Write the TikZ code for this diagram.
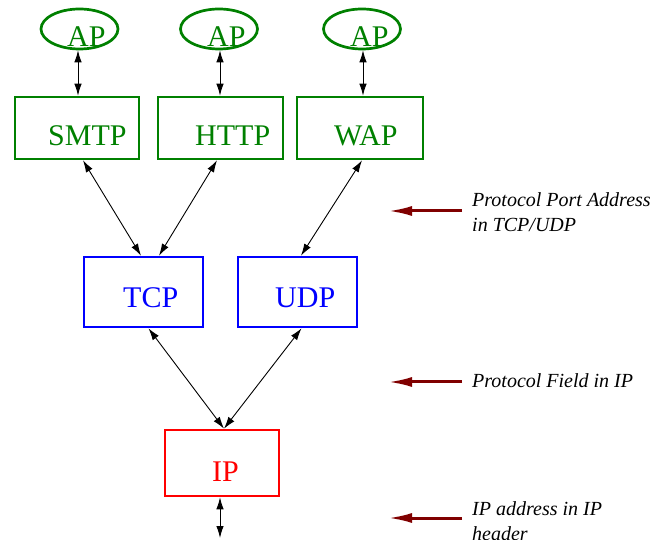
\documentclass[tikz,border=0pt]{standalone}
\usepackage{fontspec}
\setmainfont{Liberation Serif}
\usetikzlibrary{shapes.geometric,arrows.meta}
\definecolor{pgreen}{RGB}{0,128,0}
\definecolor{pblue}{RGB}{0,0,255}
\definecolor{pred}{RGB}{255,0,0}
\definecolor{pmaroon}{RGB}{128,0,0}
\begin{document}
\begin{tikzpicture}[x=1pt,y=-1pt,
  apnode/.style={ellipse,draw=pgreen,line width=2.7pt,minimum width=77pt,minimum height=40pt,inner sep=0pt},
  box/.style={rectangle,draw=#1,line width=2.7pt,inner sep=0pt},
  lbl/.style={anchor=base west,inner sep=0pt,text=#1,font=\fontsize{30}{36}\selectfont},
  note/.style={anchor=base west,inner sep=0pt,align=left,font=\fontsize{20}{25}\selectfont\itshape},
  conn/.style={{Latex[length=12pt,width=7.5pt]}-{Latex[length=12pt,width=7.5pt]},line width=0.9pt},
  pointer/.style={-{Latex[length=24pt,width=10pt]},draw=pmaroon,line width=3pt}
]
\useasboundingbox (0,0) rectangle (657,540);
% AP ellipses
\node[apnode] (ap1) at (79.5,29) {};
\node[apnode] (ap2) at (219,29) {};
\node[apnode] (ap3) at (362,29) {};
\node[lbl=pgreen] (t1) at (67,47) {AP};
\node[lbl=pgreen] (t2) at (207,47) {AP};
\node[lbl=pgreen] (t3) at (350,47) {AP};
% application boxes
\node[box=pgreen,minimum width=124pt,minimum height=62pt] (smtp) at (77,128) {};
\node[box=pgreen,minimum width=125pt,minimum height=62pt] (http) at (220.5,128) {};
\node[box=pgreen,minimum width=126pt,minimum height=62pt] (wap) at (360,128) {};
\node[lbl=pgreen] (ts) at (48,146) {SMTP};
\node[lbl=pgreen] (th) at (195,146) {HTTP};
\node[lbl=pgreen] (tw) at (334,146) {WAP};
% transport boxes
\node[box=pblue,minimum width=119pt,minimum height=70pt] (tcp) at (143.5,292) {};
\node[box=pblue,minimum width=119pt,minimum height=70pt] (udp) at (297.5,292) {};
\node[lbl=pblue] (ttcp) at (123,308) {TCP};
\node[lbl=pblue] (tudp) at (275,308) {UDP};
% IP box
\node[box=pred,minimum width=114pt,minimum height=66pt] (ip) at (222,463) {};
\node[lbl=pred] (tip) at (212,482) {IP};
\coordinate (down) at (220,538);
% connectors
\draw[conn] ([xshift=-1.5pt]ap1.south) -- ([xshift=1pt]smtp.north);
\draw[conn] ([xshift=1pt]ap2.south) -- ([xshift=-0.5pt]http.north);
\draw[conn] ([xshift=1pt]ap3.south) -- ([xshift=3pt]wap.north);
\draw[conn] ([xshift=6pt]smtp.south) -- ([xshift=-2.5pt]tcp.north);
\draw[conn] ([xshift=-3.5pt]http.south) -- ([xshift=15.5pt]tcp.north);
\draw[conn] ([xshift=2pt]wap.south) -- ([xshift=3.5pt]udp.north);
\draw[conn] ([xshift=5pt]tcp.south) -- ([xshift=2pt]ip.north);
\draw[conn] ([xshift=4pt]udp.south) -- ([xshift=2pt]ip.north);
\draw[conn] ([xshift=-2pt]ip.south) -- (down);
% notes (base anchor = last line)
\node[note] (n1) at (472,232) {Protocol Port Address\\in TCP/UDP};
\node[note] (n2) at (472,388) {Protocol Field in IP};
\node[note] (n3) at (472,540) {IP address in IP\\header};
\coordinate (s1) at (462,211);
\coordinate (s2) at (462,382);
\coordinate (s3) at (462,518);
\coordinate (m1) at (388,211);
\coordinate (m2) at (388,382);
\coordinate (m3) at (388,518);
\draw[pointer] (s1) -- (m1);
\draw[pointer] (s2) -- (m2);
\draw[pointer] (s3) -- (m3);
\end{tikzpicture}
\end{document}
